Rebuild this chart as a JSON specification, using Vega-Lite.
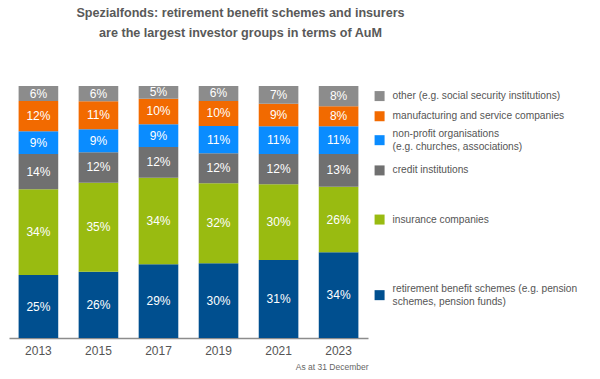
{
  "$schema": "https://vega.github.io/schema/vega-lite/v6.json",
  "width": 359,
  "height": 252,
  "autosize": {"type": "none"},
  "padding": {"left": 9, "top": 86, "right": 232, "bottom": 41},
  "background": "white",
  "config": {"view": {"stroke": null}, "font": "Liberation Sans"},
  "title": {
    "text": ["Spezialfonds: retirement benefit schemes and insurers", "are the largest investor groups in terms of AuM"],
    "fontSize": 12.6,
    "fontWeight": "bold",
    "color": "#595959",
    "lineHeight": 20,
    "anchor": "middle",
    "frame": "group",
    "dx": 52,
    "offset": 45
  },
  "data": {
    "values": [
      {"year": "2013", "k": 1, "cat": "retirement benefit schemes (e.g. pension\nschemes, pension funds)", "v": 0.25},
      {"year": "2015", "k": 1, "cat": "retirement benefit schemes (e.g. pension\nschemes, pension funds)", "v": 0.26},
      {"year": "2017", "k": 1, "cat": "retirement benefit schemes (e.g. pension\nschemes, pension funds)", "v": 0.29},
      {"year": "2019", "k": 1, "cat": "retirement benefit schemes (e.g. pension\nschemes, pension funds)", "v": 0.30},
      {"year": "2021", "k": 1, "cat": "retirement benefit schemes (e.g. pension\nschemes, pension funds)", "v": 0.31},
      {"year": "2023", "k": 1, "cat": "retirement benefit schemes (e.g. pension\nschemes, pension funds)", "v": 0.34},
      {"year": "2013", "k": 2, "cat": "insurance companies", "v": 0.34},
      {"year": "2015", "k": 2, "cat": "insurance companies", "v": 0.35},
      {"year": "2017", "k": 2, "cat": "insurance companies", "v": 0.34},
      {"year": "2019", "k": 2, "cat": "insurance companies", "v": 0.32},
      {"year": "2021", "k": 2, "cat": "insurance companies", "v": 0.30},
      {"year": "2023", "k": 2, "cat": "insurance companies", "v": 0.26},
      {"year": "2013", "k": 3, "cat": "credit institutions", "v": 0.14},
      {"year": "2015", "k": 3, "cat": "credit institutions", "v": 0.12},
      {"year": "2017", "k": 3, "cat": "credit institutions", "v": 0.12},
      {"year": "2019", "k": 3, "cat": "credit institutions", "v": 0.12},
      {"year": "2021", "k": 3, "cat": "credit institutions", "v": 0.12},
      {"year": "2023", "k": 3, "cat": "credit institutions", "v": 0.13},
      {"year": "2013", "k": 4, "cat": "non-profit organisations\n(e.g. churches, associations)", "v": 0.09},
      {"year": "2015", "k": 4, "cat": "non-profit organisations\n(e.g. churches, associations)", "v": 0.09},
      {"year": "2017", "k": 4, "cat": "non-profit organisations\n(e.g. churches, associations)", "v": 0.09},
      {"year": "2019", "k": 4, "cat": "non-profit organisations\n(e.g. churches, associations)", "v": 0.11},
      {"year": "2021", "k": 4, "cat": "non-profit organisations\n(e.g. churches, associations)", "v": 0.11},
      {"year": "2023", "k": 4, "cat": "non-profit organisations\n(e.g. churches, associations)", "v": 0.11},
      {"year": "2013", "k": 5, "cat": "manufacturing and service companies", "v": 0.12},
      {"year": "2015", "k": 5, "cat": "manufacturing and service companies", "v": 0.11},
      {"year": "2017", "k": 5, "cat": "manufacturing and service companies", "v": 0.10},
      {"year": "2019", "k": 5, "cat": "manufacturing and service companies", "v": 0.10},
      {"year": "2021", "k": 5, "cat": "manufacturing and service companies", "v": 0.09},
      {"year": "2023", "k": 5, "cat": "manufacturing and service companies", "v": 0.08},
      {"year": "2013", "k": 6, "cat": "other (e.g. social security institutions)", "v": 0.06},
      {"year": "2015", "k": 6, "cat": "other (e.g. social security institutions)", "v": 0.06},
      {"year": "2017", "k": 6, "cat": "other (e.g. social security institutions)", "v": 0.05},
      {"year": "2019", "k": 6, "cat": "other (e.g. social security institutions)", "v": 0.06},
      {"year": "2021", "k": 6, "cat": "other (e.g. social security institutions)", "v": 0.07},
      {"year": "2023", "k": 6, "cat": "other (e.g. social security institutions)", "v": 0.08}
    ]
  },
  "encoding": {
    "x": {
      "field": "year",
      "type": "ordinal",
      "scale": {"paddingInner": 0.34, "paddingOuter": 0.16},
      "axis": {
        "title": "As at 31 December",
        "titleAnchor": "end",
        "titleFontSize": 8.5,
        "titleFontWeight": "normal",
        "titleColor": "#666666",
        "titlePadding": 6,
        "labelAngle": 0,
        "labelFontSize": 12,
        "labelColor": "#555555",
        "labelPadding": 7,
        "ticks": false,
        "domainColor": "#8c8c8c",
        "domainWidth": 1.5
      }
    },
    "y": {
      "field": "v",
      "type": "quantitative",
      "stack": "normalize",
      "scale": {"domain": [0, 1]},
      "axis": null
    },
    "order": {"field": "k", "type": "quantitative"}
  },
  "layer": [
    {
      "mark": {"type": "bar"},
      "encoding": {
        "color": {
          "field": "cat",
          "type": "nominal",
          "legend": null,
          "scale": {
            "domain": [
              "retirement benefit schemes (e.g. pension\nschemes, pension funds)",
              "insurance companies",
              "credit institutions",
              "non-profit organisations\n(e.g. churches, associations)",
              "manufacturing and service companies",
              "other (e.g. social security institutions)"
            ],
            "range": ["#004f8f", "#99bb11", "#707070", "#0a8cff", "#f26a00", "#8c8c8c"]
          }
        }
      }
    },
    {
      "mark": {"type": "text", "color": "white", "fontSize": 12},
      "encoding": {
        "y": {"field": "v", "type": "quantitative", "stack": "normalize", "bandPosition": 0.5},
        "detail": {"field": "cat"},
        "text": {"field": "v", "type": "quantitative", "format": ".0%"}
      }
    },
    {
      "transform": [{"filter": "datum.year == '2023'"}],
      "mark": {"type": "point", "shape": "square", "filled": true, "opacity": 1, "size": 100, "xOffset": 41},
      "encoding": {
        "y": {"field": "v", "type": "quantitative", "stack": "normalize", "bandPosition": 0.5},
        "color": {"field": "cat", "type": "nominal", "legend": null}
      }
    },
    {
      "transform": [{"filter": "datum.year == '2023'"}],
      "mark": {"type": "text", "align": "left", "dx": 54, "fontSize": 10.2, "color": "#555555", "lineBreak": "\n", "lineHeight": 13},
      "encoding": {
        "y": {"field": "v", "type": "quantitative", "stack": "normalize", "bandPosition": 0.5},
        "detail": {"field": "cat"},
        "text": {"field": "cat"},
        "opacity": {
          "condition": {"test": "datum.k == 1 || datum.k == 4", "value": 0},
          "value": 1
        }
      }
    },
    {
      "transform": [{"filter": "datum.year == '2023'"}],
      "mark": {"type": "text", "align": "left", "dx": 54, "dy": -6.5, "fontSize": 10.2, "color": "#555555", "lineBreak": "\n", "lineHeight": 13},
      "encoding": {
        "y": {"field": "v", "type": "quantitative", "stack": "normalize", "bandPosition": 0.5},
        "detail": {"field": "cat"},
        "text": {"field": "cat"},
        "opacity": {
          "condition": {"test": "datum.k == 1 || datum.k == 4", "value": 1},
          "value": 0
        }
      }
    }
  ]
}
